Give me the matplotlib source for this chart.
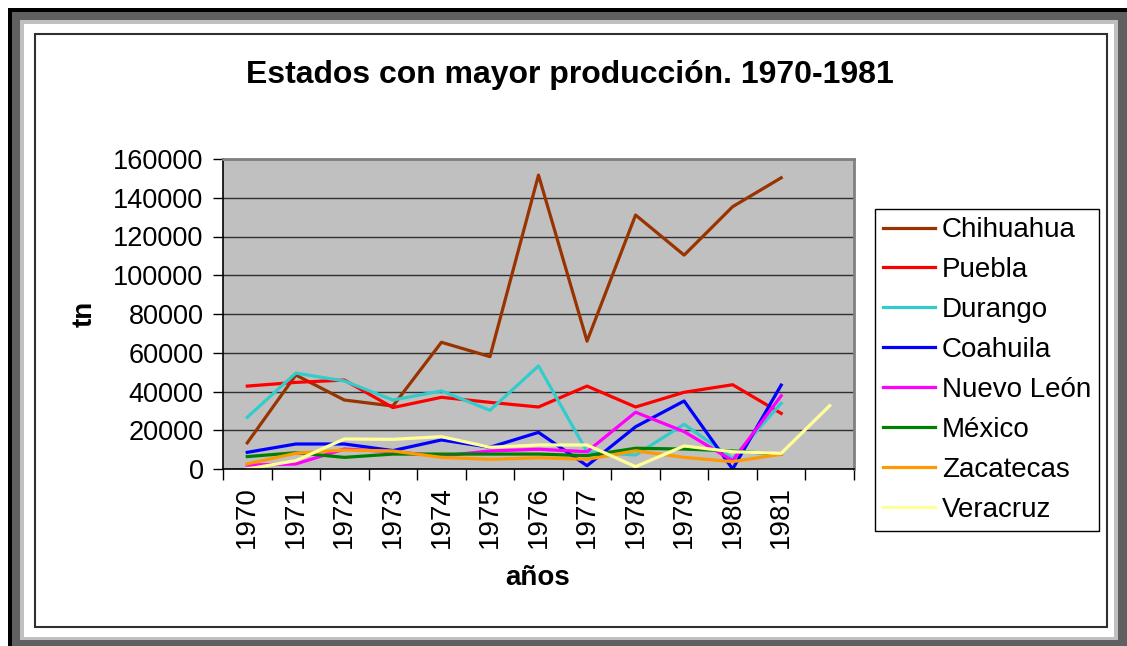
import matplotlib.pyplot as plt
from matplotlib.patches import Rectangle

plt.rcParams['font.family'] = ['Liberation Sans', 'DejaVu Sans']

# datos de producción (tn) por estado
anios = ['1970', '1971', '1972', '1973', '1974', '1975', '1976',
         '1977', '1978', '1979', '1980', '1981', '']
chihuahua = [13500, 48500, 35600, 32500, 65400, 58000, 151700,
             66000, 131100, 110400, 135400, 150300]
puebla = [42800, 44700, 45900, 31700, 37000, 34400, 32000,
          42800, 32000, 39600, 43500, 28700]
durango = [26700, 49500, 45400, 35600, 40300, 30300, 53200,
           8900, 7200, 23100, 5500, 33900]
coahuila = [8600, 12900, 12900, 9500, 15000, 11200, 18900,
            1700, 21800, 35100, 0, 43300]
nuevo_leon = [2000, 2600, 10300, 8900, 6700, 9300, 10200,
              8900, 29300, 19300, 4300, 37800]
mexico = [6400, 8400, 6000, 7700, 7700, 7700, 7700,
          6900, 10700, 10300, 9300, 7600]
zacatecas = [2600, 8100, 9800, 9300, 6000, 5000, 5800,
             5000, 9400, 6000, 3800, 7600]
veracruz = [0, 4300, 15500, 15300, 16700, 11200, 12400,
            12400, 1200, 11900, 8900, 8100, 32700]

series = [
    ('Chihuahua', chihuahua, '#993300'),
    ('Puebla', puebla, '#FF0000'),
    ('Durango', durango, '#33CCCC'),
    ('Coahuila', coahuila, '#0000FF'),
    ('Nuevo León', nuevo_leon, '#FF00FF'),
    ('México', mexico, '#008000'),
    ('Zacatecas', zacatecas, '#FF9900'),
    ('Veracruz', veracruz, '#FFFF99'),
]

W, H = 1127, 646
fig = plt.figure(figsize=(W / 100, H / 100), dpi=100)


def caja(x0, y0, x1, y1, **kw):
    # rectángulo en pixeles (origen arriba a la izquierda)
    fig.patches.append(Rectangle((x0 / W, 1 - y1 / H), (x1 - x0) / W, (y1 - y0) / H,
                                 transform=fig.transFigure, zorder=-5, **kw))


# marco exterior estilo Excel
caja(8, 8, W + 5, H + 5, facecolor='black', edgecolor='none')
caja(12, 12, W + 5, H + 5, facecolor='#606060', edgecolor='none')
caja(20, 20, 1118, 640, facecolor='#C0C0C0', edgecolor='none')
caja(24, 24, 1114, 637, facecolor='white', edgecolor='none')
caja(35, 34, 1107, 627, facecolor='white', edgecolor='#303030', linewidth=1.5)

ax = fig.add_axes([223 / W, 1 - 469 / H, (854 - 223) / W, (469 - 159) / H])
ax.set_facecolor('#C0C0C0')

x = list(range(len(anios)))
for nombre, valores, color in series:
    ax.plot(x[:len(valores)], valores, color=color, linewidth=2.3, label=nombre)

ax.set_xlim(-0.5, len(anios) - 0.5)
ax.set_ylim(0, 160000)
ax.set_yticks(range(0, 160001, 20000))
ax.tick_params(axis='y', labelsize=19.5, length=7, width=1, color='black', pad=7)
ax.set_xticks([i - 0.5 for i in range(len(anios) + 1)])
ax.set_xticklabels([])
ax.tick_params(axis='x', length=8, width=1, color='black')
for i, a in enumerate(anios):
    ax.text(i, -0.055, a, transform=ax.get_xaxis_transform(), rotation=90,
            ha='center', va='top', fontsize=20)

ax.grid(axis='y', color='#303030', linewidth=1)
ax.set_axisbelow(True)
for lado in ['top', 'right']:
    ax.spines[lado].set_color('#808080')
    ax.spines[lado].set_linewidth(2)
for lado in ['left', 'bottom']:
    ax.spines[lado].set_color('black')
    ax.spines[lado].set_linewidth(1.2)

fig.text(570 / W, 1 - 75 / H, 'Estados con mayor producción. 1970-1981',
         ha='center', va='center', fontsize=23, fontweight='bold')
fig.text(538 / W, 1 - 578 / H, 'años', ha='center', va='center',
         fontsize=20, fontweight='bold')
fig.text(85 / W, 1 - 314 / H, 'tn', ha='center', va='center', rotation=90,
         fontsize=20, fontweight='bold')

fig.legend(loc='upper left', bbox_to_anchor=(875 / W, 1 - 209 / H),
           frameon=True, fancybox=False, edgecolor='black', framealpha=1,
           fontsize=20, handlelength=1.85, handletextpad=0.25,
           labelspacing=0.5, borderpad=0.3, borderaxespad=0)

fig.savefig('out.png', dpi=100)
